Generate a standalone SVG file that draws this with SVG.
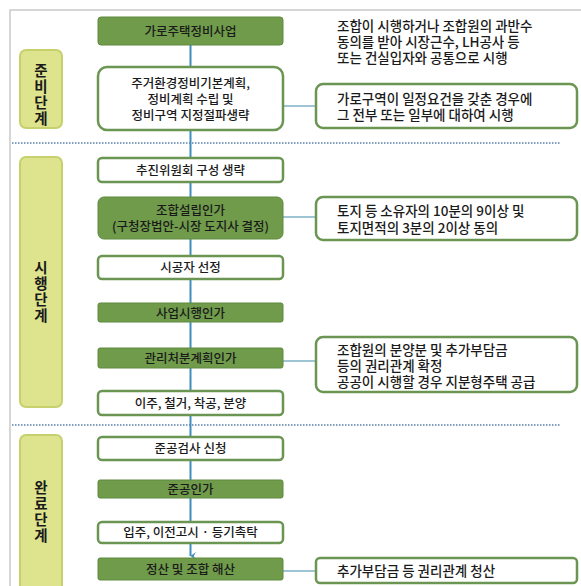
<svg xmlns="http://www.w3.org/2000/svg" width="581" height="586" viewBox="0 0 581 586">
<defs>
<style>
text{font-family:"Noto Sans CJK KR","Noto Sans",sans-serif;fill:#1a1a1a;font-weight:500}
.n{font-size:12.5px;text-anchor:middle}
.r{font-size:13.5px}
.st{font-size:14.5px;font-weight:bold;text-anchor:middle;writing-mode:vertical-rl;letter-spacing:1.5px}
.g{fill:#6f9b4b;stroke:#5e8a3e;stroke-width:1}
.w{fill:#ffffff;stroke:#6b9552;stroke-width:2.5}
.s{fill:#dde48d;stroke:#c6d06c;stroke-width:2}
.c{stroke:#3f8dbd;stroke-width:2;fill:none}
.cr{stroke:#7eb0c9;stroke-width:1.5;fill:none}
.dot{stroke:#7f9fc0;stroke-width:2;stroke-dasharray:1.5 1.5;fill:none}
</style>
<marker id="ah" viewBox="0 0 10 10" refX="5" refY="9" markerWidth="4" markerHeight="4" orient="auto-start-reverse"><path d="M0 2 L5 9 L10 2 L5 5 Z" fill="#3f8dbd"/></marker>
</defs>
<rect x="0" y="0" width="581" height="586" fill="#ffffff"/>
<path d="M10 586 V10 H581" stroke="#c9c9c9" stroke-width="1.5" fill="none"/>
<g id="dividers">
<line class="dot" x1="12" y1="143" x2="560" y2="143"/>
<line class="dot" x1="12" y1="425" x2="560" y2="425"/>
</g>
<g id="connectors">
<line class="c" x1="190.5" y1="45" x2="190.5" y2="545"/>
<line class="c" x1="190.5" y1="545" x2="190.5" y2="556" marker-end="url(#ah)"/>
<line class="cr" x1="283" y1="106" x2="316" y2="106"/>
<line class="cr" x1="283" y1="217" x2="316" y2="217"/>
<line class="cr" x1="283" y1="361" x2="316" y2="361"/>
<line class="cr" x1="283" y1="571" x2="316" y2="571"/>
</g>
<g id="stage1"><rect class="s" x="20" y="50" width="42" height="78" rx="6"/>
<text class="st" x="41" y="95">준비단계</text></g>
<g id="stage2"><rect class="s" x="20" y="157" width="42" height="250" rx="6"/>
<text class="st" x="41" y="292">시행단계</text></g>
<g id="stage3"><rect class="s" x="20" y="435" width="42" height="160" rx="6"/>
<text class="st" x="41" y="512">완료단계</text></g>
<g id="n1"><rect class="g" x="98" y="17" width="185" height="28" rx="3"/><text class="n" x="190.5" y="36">가로주택정비사업</text></g>
<g id="n2"><rect class="w" x="98" y="67" width="185" height="63" rx="9"/><text class="n" x="190.5" y="88">주거환경정비기본계획,<tspan x="190.5" dy="16">정비계획 수립 및</tspan><tspan x="190.5" dy="16">정비구역 지정절파생략</tspan></text></g>
<g id="n3"><rect class="w" x="98" y="158" width="185" height="24" rx="4"/><text class="n" x="190.5" y="175">추진위원회 구성 생략</text></g>
<g id="n4"><rect class="g" x="98" y="197" width="185" height="42" rx="6"/><text class="n" x="190.5" y="215">조합설립인가<tspan x="190.5" dy="16">(구청장법안-시장 도지사 결정)</tspan></text></g>
<g id="n5"><rect class="w" x="98" y="256" width="185" height="23" rx="4"/><text class="n" x="190.5" y="272">시공자 선정</text></g>
<g id="n6"><rect class="g" x="98" y="303" width="185" height="19" rx="2"/><text class="n" x="190.5" y="318">사업시행인가</text></g>
<g id="n7"><rect class="g" x="98" y="348" width="185" height="20" rx="2"/><text class="n" x="190.5" y="363">관리처분계획인가</text></g>
<g id="n8"><rect class="w" x="98" y="391" width="185" height="24" rx="4"/><text class="n" x="190.5" y="408">이주, 철거, 착공, 분양</text></g>
<g id="n9"><rect class="w" x="98" y="437" width="185" height="23" rx="4"/><text class="n" x="190.5" y="453">준공검사 신청</text></g>
<g id="n10"><rect class="g" x="98" y="480" width="185" height="18" rx="2"/><text class="n" x="190.5" y="494">준공인가</text></g>
<g id="n11"><rect class="w" x="98" y="522" width="185" height="21" rx="4"/><text class="n" x="190.5" y="537">입주, 이전고시 · 등기촉탁</text></g>
<g id="n12"><rect class="g" x="98" y="558" width="185" height="22" rx="2"/><text class="n" x="190.5" y="574">정산 및 조합 해산</text></g>
<g id="noteA"><text class="r" x="337" y="31">조합이 시행하거나 조합원의 과반수<tspan x="337" dy="16">동의를 받아 시장근수, LH공사 등</tspan><tspan x="337" dy="16">또는 건실입자와 공통으로 시행</tspan></text></g>
<g id="noteB"><rect class="w" x="316" y="84" width="261" height="44" rx="7"/><text class="r" x="337" y="104">가로구역이 일정요건을 갖춘 경우에<tspan x="337" dy="16">그 전부 또는 일부에 대하여 시행</tspan></text></g>
<g id="noteC"><rect class="w" x="316" y="197" width="261" height="43" rx="7"/><text class="r" x="337" y="216">토지 등 소유자의 10분의 9이상 및<tspan x="337" dy="17">토지면적의 3분의 2이상 동의</tspan></text></g>
<g id="noteD"><rect class="w" x="316" y="337" width="261" height="55" rx="7"/><text class="r" x="337" y="355">조합원의 분양분 및 추가부담금<tspan x="337" dy="16">등의 권리관계 확정</tspan><tspan x="337" dy="16">공공이 시행할 경우 지분형주택 공급</tspan></text></g>
<g id="noteE"><rect class="w" x="316" y="558" width="261" height="25" rx="4"/><text class="r" x="337" y="576">추가부담금 등 권리관계 청산</text></g>
</svg>
